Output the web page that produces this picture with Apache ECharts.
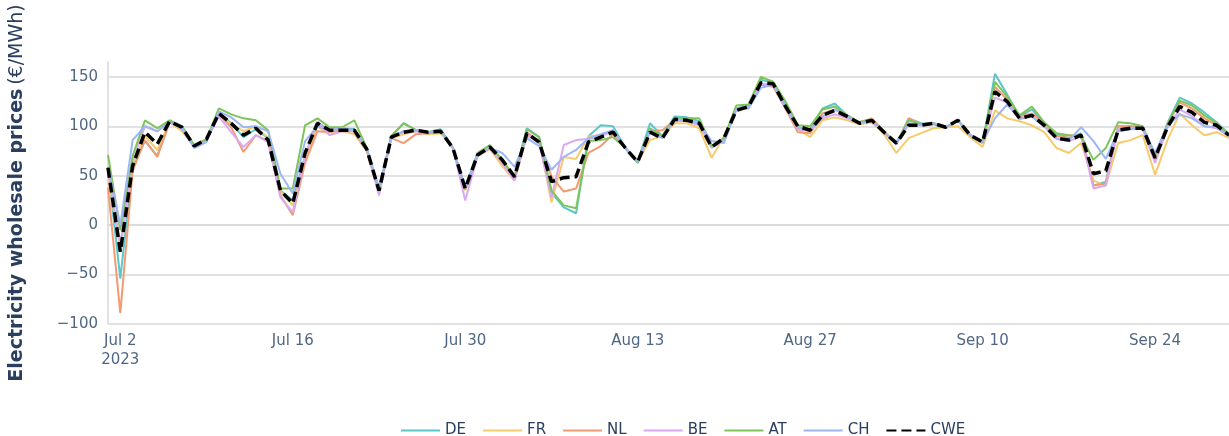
<!DOCTYPE html>
<html>
<head>
<meta charset="utf-8">
<script src="https://cdn.jsdelivr.net/npm/echarts@6/dist/echarts.min.js"></script>
<style>
  html, body { margin: 0; padding: 0; background: #fff; }
  #chart { width: 1229px; height: 436px; }
</style>
</head>
<body>
<div id="chart"></div>
<script>
// Daily day-ahead wholesale prices, 1 Jul – 30 Sep 2023 (€/MWh)
const startDate = '2023-07-01';
const dayCount = 92;

const seriesNames = ['DE', 'FR', 'NL', 'BE', 'AT', 'CH', 'CWE'];

const DE = [58,-54,60,85,70,106,100,80,86,114,103,89,97,88,35,25,70,104,96,98,97,76,34,90,103,96,94,97,78,36,72,80,64,48,98,89,33,18,12,90,101,100,78,64,103,90,110,109,105,80,87,118,121,147,144,121,98,97,118,123,111,104,107,94,82,108,103,102,99,106,91,83,153,132,110,117,103,92,88,93,40,44,100,100,100,67,103,129,123,114,104,92];
const FR = [50,-25,62,90,76,104,95,80,86,112,102,95,100,88,34,20,66,100,91,95,92,75,34,88,92,95,92,93,78,35,70,77,60,45,90,86,23,69,67,90,91,96,78,64,86,90,103,103,98,68,90,116,119,143,142,118,97,89,106,109,106,102,104,92,73,88,93,98,99,100,89,79,116,108,105,101,94,78,73,83,45,40,83,86,91,51,86,113,101,91,94,88];
const NL = [38,-89,55,86,69,104,98,80,87,112,99,74,91,85,30,10,63,95,94,96,95,76,34,88,83,92,93,95,78,36,71,78,64,48,94,85,49,34,37,73,80,92,78,64,95,96,106,105,102,80,87,117,119,142,140,118,94,93,113,117,110,104,108,95,82,108,102,103,99,106,91,84,140,127,110,113,103,90,91,90,40,42,100,99,99,66,102,124,118,108,101,91];
const BE = [55,-20,65,100,95,105,97,80,86,110,94,79,91,84,28,13,70,105,91,95,95,77,30,89,94,95,93,95,78,25,70,78,63,45,92,83,28,81,86,87,90,95,78,63,94,89,106,105,101,78,86,117,119,143,142,119,97,95,108,112,108,103,105,94,82,102,101,103,99,106,91,83,129,124,107,110,100,87,85,90,37,40,97,98,97,63,98,117,110,100,98,90];
const AT = [71,-5,70,106,98,106,100,81,87,118,112,108,106,96,37,37,101,108,99,99,106,78,36,90,103,96,94,96,78,37,73,81,66,49,97,89,35,20,17,85,86,89,78,63,98,90,108,108,108,80,88,121,122,150,145,125,101,100,117,120,111,104,107,94,83,106,102,103,99,106,91,84,145,130,111,120,104,93,91,90,66,78,104,103,100,70,102,126,121,111,103,92];
const CH = [59,0,86,100,95,104,98,78,84,115,109,99,100,95,52,32,85,100,96,98,96,77,38,89,95,96,94,96,78,38,72,78,73,59,88,80,56,69,76,88,92,96,78,64,96,88,107,106,103,85,83,117,118,139,142,119,99,97,110,117,110,103,106,94,84,103,101,103,99,106,91,84,108,122,108,110,100,88,86,99,85,67,95,97,98,73,100,112,108,100,99,90];
const CWE = [58,-27,60,94,82,105,99,80,87,113,103,91,98,86,35,22,73,103,96,96,96,77,35,89,94,96,94,95,78,37,71,79,66,49,93,84,44,48,49,84,89,94,78,64,94,88,107,106,103,79,88,116,120,144,143,120,100,96,111,116,110,103,106,94,83,101,101,103,99,106,91,84,135,125,108,111,101,88,86,91,52,55,96,98,98,68,99,120,114,104,101,91];

// Labelled x ticks (every second Sunday)
const xTickLabels = {
  '2023-07-02': 'Jul 2\n2023',
  '2023-07-16': 'Jul 16',
  '2023-07-30': 'Jul 30',
  '2023-08-13': 'Aug 13',
  '2023-08-27': 'Aug 27',
  '2023-09-10': 'Sep 10',
  '2023-09-24': 'Sep 24'
};

const lineColors = {
  DE: '#5cc6c8',
  FR: '#f7cb6c',
  NL: '#f39a73',
  BE: '#d9aaf1',
  AT: '#7dc55b',
  CH: '#9db6f4',
  CWE: '#000000'
};

const values = { DE, FR, NL, BE, AT, CH, CWE };

// Calendar days for the category axis
const days = [];
{
  const d0 = new Date(startDate + 'T00:00:00Z');
  for (let i = 0; i < dayCount; i++) {
    const d = new Date(d0.getTime() + i * 86400000);
    days.push(d.toISOString().slice(0, 10));
  }
}

const textColor = '#506784';
const titleColor = '#2a3f5f';
const gridColor = '#d9d9d9';
const fontFamily = '"DejaVu Sans", Verdana, sans-serif';

const series = seriesNames.map(name => {
  const isCWE = name === 'CWE';
  return {
    name,
    type: 'line',
    data: values[name],
    showSymbol: false,
    symbol: 'none',
    smooth: false,
    z: isCWE ? 5 : 2,
    lineStyle: {
      color: lineColors[name],
      width: isCWE ? 3.5 : 2,
      type: isCWE ? [10, 5] : 'solid'
    },
    itemStyle: { color: lineColors[name] },
    emphasis: { disabled: true }
  };
});

const chart = echarts.init(document.getElementById('chart'), null, { renderer: 'canvas' });
chart.setOption({
  animation: false,
  backgroundColor: '#ffffff',
  textStyle: { fontFamily },
  grid: { left: 107, right: 0, top: 62, bottom: 112, containLabel: false },
  legend: {
    data: seriesNames.map(n => ({ name: n })),
    top: 418,
    left: 395,
    itemWidth: 39,
    itemHeight: 12,
    itemGap: 16,
    itemStyle: { opacity: 0 },
    textStyle: { color: titleColor, fontSize: 15, fontFamily },
    selectedMode: false
  },
  xAxis: {
    type: 'category',
    data: days,
    boundaryGap: false,
    axisLine: { show: true, lineStyle: { color: gridColor, width: 1.5 } },
    axisTick: { show: false },
    splitLine: { show: false },
    axisLabel: {
      interval: (idx, val) => xTickLabels[val] !== undefined,
      formatter: val => xTickLabels[val] || '',
      color: textColor,
      fontSize: 15,
      lineHeight: 19,
      margin: 8,
      fontFamily
    }
  },
  yAxis: {
    type: 'value',
    min: -100,
    max: 165,
    interval: 50,
    name: '{b|Electricity wholesale prices} {n|(€/MWh)}',
    nameLocation: 'middle',
    nameGap: 81,
    nameTextStyle: {
      rich: {
        b: { fontSize: 19, fontWeight: 'bold', color: titleColor, fontFamily },
        n: { fontSize: 19, color: titleColor, fontFamily }
      }
    },
    axisLine: { show: true, lineStyle: { color: gridColor, width: 1.5 } },
    axisTick: { show: false },
    splitLine: { show: true, showMaxLine: false, lineStyle: { color: gridColor, width: 1.5 } },
    axisLabel: {
      showMaxLabel: false,
      color: textColor,
      fontSize: 15,
      margin: 10,
      fontFamily,
      formatter: v => (v % 50 === 0 ? (v < 0 ? '\u2212' + Math.abs(v) : String(v)) : '')
    }
  },
  series
});
</script>
</body>
</html>
